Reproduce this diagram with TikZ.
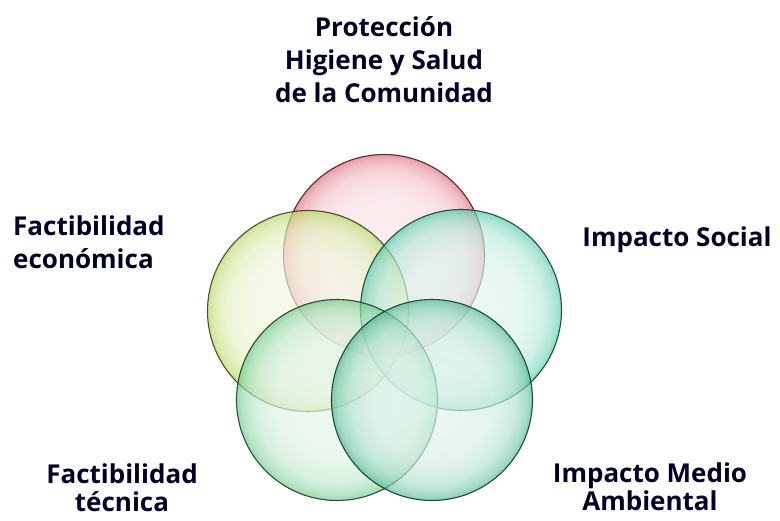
\documentclass[tikz,border=0pt]{standalone}
\usepackage{fontspec}
\setmainfont{Open Sans}
\usetikzlibrary{positioning}
\colorlet{ringcol}{red}
\definecolor{protcol}{HTML}{E0667A}
\definecolor{econcol}{HTML}{B4D65A}
\definecolor{soccol}{HTML}{4CC8A6}
\definecolor{teccol}{HTML}{66C886}
\definecolor{ambcol}{HTML}{46B68E}
\pgfdeclareradialshading[ringcol]{glow}{\pgfpoint{0bp}{0bp}}{%
  color(0bp)=(ringcol!16); color(15bp)=(ringcol!22); color(20.5bp)=(ringcol!40);
  color(23.5bp)=(ringcol!70); color(25bp)=(ringcol!100); color(50bp)=(ringcol!100)}
\tikzset{
  bubble/.style={/utils/exec={\colorlet{ringcol}{#1}}, circle, inner sep=0pt, minimum size=201pt,
    shading=glow, fill opacity=0.66, draw=ringcol!30!black, draw opacity=0.9, line width=1.1pt},
  lbl/.style={font=\fontsize{26}{33}\selectfont\bfseries, text=black!85!blue, inner sep=0pt},
}
\begin{document}
\begin{tikzpicture}[x=1pt,y=-1pt]
	\useasboundingbox (0,0) rectangle (780,521);
	\node[bubble=protcol] (cprot) at (384,255) {};
	\node[bubble=econcol] (cecon) at (308,311) {};
	\node[bubble=soccol] (csoc) at (461,310) {};
	\node[bubble=teccol] (ctec) at (337,400) {};
	\node[bubble=ambcol] (camb) at (432,400) {};
	%
	\node[lbl, align=center] (prot) at (384,60) {Protección\\Higiene y Salud\\de la Comunidad};
	\node[lbl, align=left, anchor=west] (econ) at (13,242) {Factibilidad\\económica};
	\node[lbl] (soc) at (677,240) {Impacto Social};
	\node[lbl, align=center, font=\fontsize{26}{28}\selectfont\bfseries] (tec) at (122,488) {Factibilidad\\técnica};
	\node[lbl, align=center, font=\fontsize{26}{28}\selectfont\bfseries] (amb) at (650,487) {Impacto Medio\\Ambiental};
\end{tikzpicture}
\end{document}
